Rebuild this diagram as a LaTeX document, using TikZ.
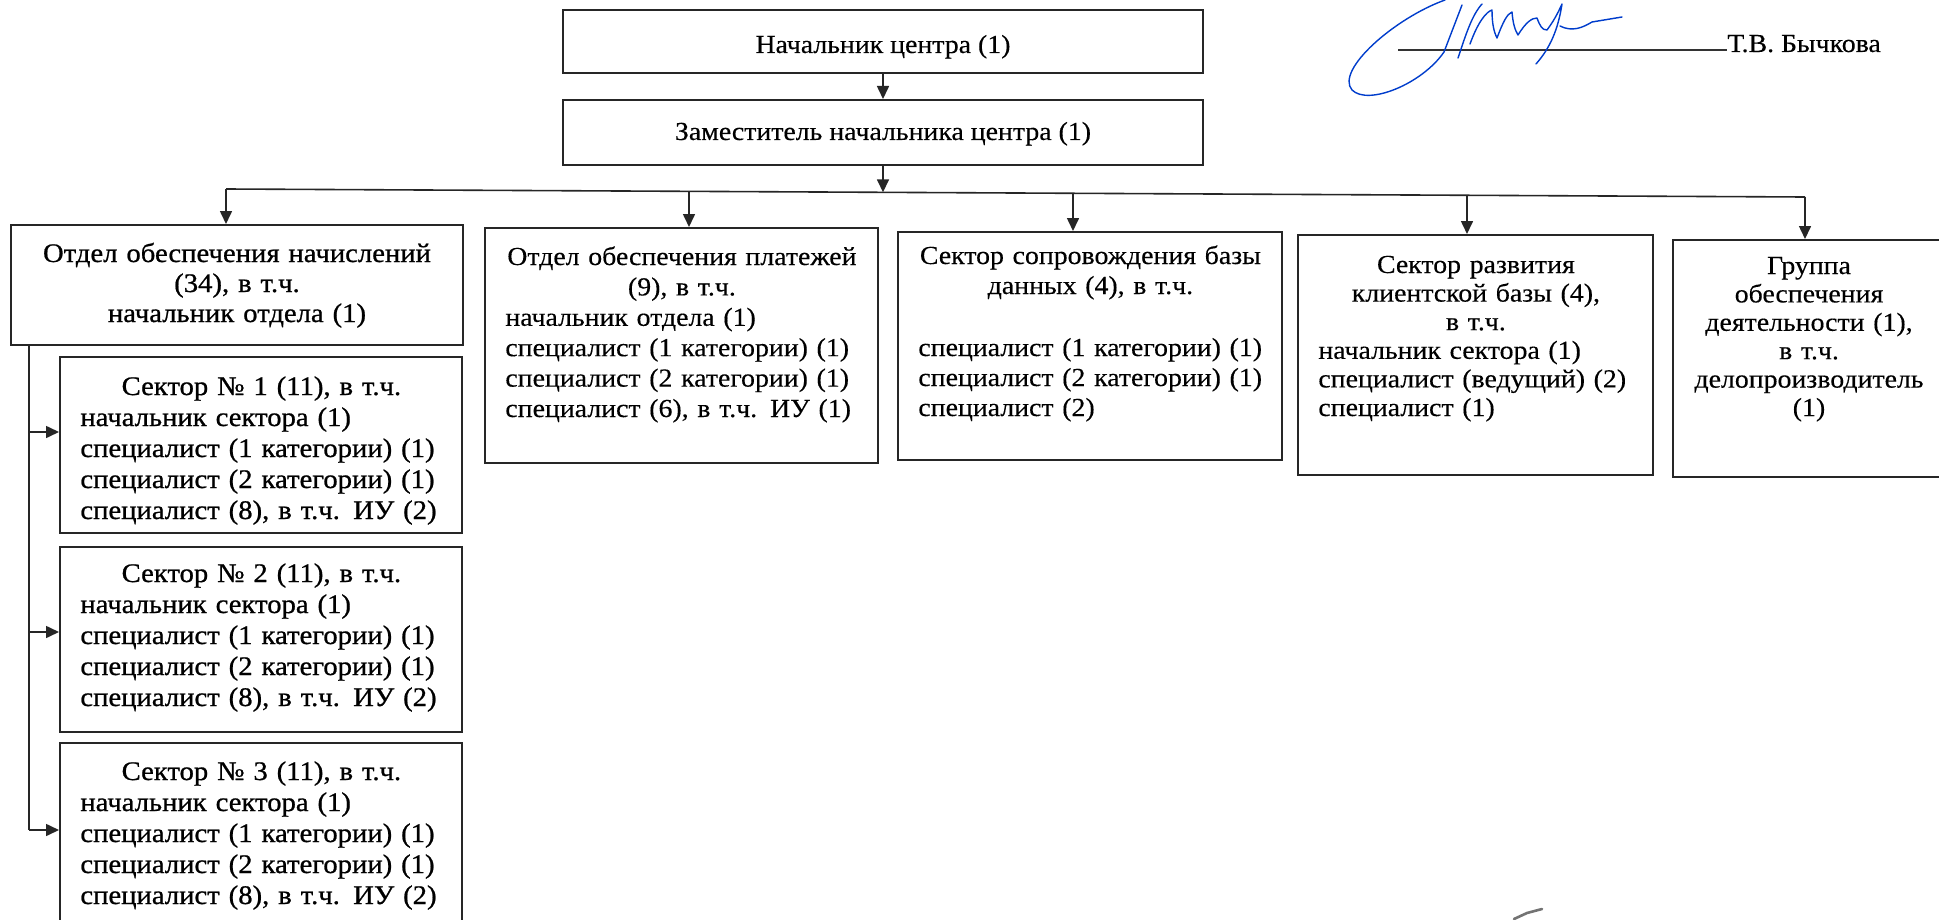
\documentclass[tikz,border=0pt]{standalone}
\usepackage{fontspec}
\setmainfont{Liberation Serif}[FakeStretch=1.07, FakeBold=0.3]
\newfontfamily\heavyfont{Liberation Serif}[FakeStretch=1.07, FakeBold=0.8]
\usetikzlibrary{fit,arrows.meta}
\newcommand\orgfont[1]{\fontsize{13}{#1}\selectfont}
\newcommand\orgfontL[1]{\heavyfont\fontsize{13.4}{#1}\selectfont}
\newcommand\ctrline[1]{\makebox[\linewidth][c]{#1}}
\newcommand\lftline[1]{\mbox{#1}}
\tikzset{
  box/.style={draw=black!85, line width=1pt, inner sep=0pt},
  con/.style={draw=black!85, line width=0.8pt},
  arr/.style={con, -{Triangle[length=6.5pt,width=6pt]}},
  txt/.style={inner sep=0pt, anchor=base},
  ctxt/.style={inner sep=0pt, anchor=base, align=center},
  ltxt/.style={inner sep=0pt, anchor=base west, align=left},
  sig/.style={draw=blue!70!cyan!80!black, line width=0.7pt, line cap=round, line join=round},
}
\begin{document}
\begin{tikzpicture}[x=0.5pt,y=-0.5pt]
\fill[white] (0,0) rectangle (1939,920);
\useasboundingbox (0,0) rectangle (1939,920);
\clip (0,0) rectangle (1939,920);

% boxes
\node[box, fit={(563,10) (1203,73)}] (A) {};
\node[box, fit={(563,100) (1203,165)}] (B) {};
\node[box, fit={(11,225) (463,345)}] (C) {};
\node[box, fit={(60,357) (462,533)}] (S1) {};
\node[box, fit={(60,547) (462,732)}] (S2) {};
\node[box, fit={(60,743) (462,935)}] (S3) {};
\node[box, fit={(485,228) (878,463)}] (D) {};
\node[box, fit={(898,232) (1282,460)}] (E) {};
\node[box, fit={(1298,235) (1653,475)}] (F) {};
\node[box, fit={(1673,240) (1950,477)}] (G) {};

% texts
\node[txt, font=\orgfont{15}] (At) at (883,53) {Начальник центра (1)};
\node[txt, font=\orgfont{15}] (Bt) at (883,140) {Заместитель начальника центра (1)};
\node[ctxt, text width=210pt, font=\orgfontL{15}] (Ct) at (237,262)
  {Отдел обеспечения начислений\\(34), в т.ч.\\начальник отдела (1)};
\node[ltxt, text width=181pt, font=\orgfontL{15.5}] (S1t) at (80,395)
  {\ctrline{Сектор № 1 (11), в т.ч.}\\\lftline{начальник сектора (1)}\\\lftline{специалист (1 категории) (1)}\\\lftline{специалист (2 категории) (1)}\\\lftline{специалист (8), в т.ч. ИУ (2)}};
\node[ltxt, text width=181pt, font=\orgfontL{15.5}] (S2t) at (80,582)
  {\ctrline{Сектор № 2 (11), в т.ч.}\\\lftline{начальник сектора (1)}\\\lftline{специалист (1 категории) (1)}\\\lftline{специалист (2 категории) (1)}\\\lftline{специалист (8), в т.ч. ИУ (2)}};
\node[ltxt, text width=181pt, font=\orgfontL{15.5}] (S3t) at (80,780)
  {\ctrline{Сектор № 3 (11), в т.ч.}\\\lftline{начальник сектора (1)}\\\lftline{специалист (1 категории) (1)}\\\lftline{специалист (2 категории) (1)}\\\lftline{специалист (8), в т.ч. ИУ (2)}};
\node[ltxt, text width=176.5pt, font=\orgfont{15.2}] (Dt) at (505,265)
  {\ctrline{Отдел обеспечения платежей}\\\ctrline{(9), в т.ч.}\\\lftline{начальник отдела (1)}\\\lftline{специалист (1 категории) (1)}\\\lftline{специалист (2 категории) (1)}\\\lftline{специалист (6), в т.ч. ИУ (1)}};
\node[ltxt, text width=172pt, font=\orgfont{15}] (Et) at (918,264)
  {\ctrline{Сектор сопровождения базы}\\\ctrline{данных (4), в т.ч.}\\[16pt]\lftline{специалист (1 категории) (1)}\\\lftline{специалист (2 категории) (1)}\\\lftline{специалист (2)}};
\node[ltxt, text width=157.5pt, font=\orgfont{14.3}] (Ft) at (1318,273)
  {\ctrline{Сектор развития}\\\ctrline{клиентской базы (4),}\\\ctrline{в т.ч.}\\\lftline{начальник сектора (1)}\\\lftline{специалист (ведущий) (2)}\\\lftline{специалист (1)}};
\node[ctxt, text width=130pt, font=\orgfont{14.2}] (Gt) at (1809,274)
  {Группа\\обеспечения\\деятельности (1),\\в т.ч.\\делопроизводитель\\(1)};

% connectors
\draw[arr] (A) -- (B);
\coordinate (j) at (883,192.3);
\draw[arr] (B) -- (j);
\coordinate (b1) at (226,189);
\coordinate (b2) at (689,191.3);
\coordinate (b3) at (1073,193.3);
\coordinate (b4) at (1467,195.3);
\coordinate (b5) at (1805,197);
\draw[con] (b1) -- (b5);
\draw[arr] (b1) -- (b1 |- C.north);
\draw[arr] (b2) -- (b2 |- D.north);
\draw[arr] (b3) -- (b3 |- E.north);
\draw[arr] (b4) -- (b4 |- F.north);
\draw[arr] (b5) -- (b5 |- G.north);

\coordinate (t1) at (29,432);
\coordinate (t2) at (29,632);
\coordinate (t3) at (29,830);
\draw[con] (C.south -| t3) -- (t3);
\draw[arr] (t1) -- (t1 -| S1.west);
\draw[arr] (t2) -- (t2 -| S2.west);
\draw[arr] (t3) -- (t3 -| S3.west);

% signature block
\node[inner sep=0pt, anchor=base west, font=\orgfont{15}] (sign) at (1727,52) {Т.В. Бычкова};
\coordinate (sl) at (1398,50);
\draw[black!80, line width=0.7pt] (sl) -- (sl -| sign.west);
\draw[sig] (1445,0) .. controls (1395,18) and (1335,70) .. (1352,90)
  .. controls (1368,106) and (1422,84) .. (1444,52) -- (1462,5);
\draw[sig] (1458,58) .. controls (1466,34) and (1472,15) .. (1482,4);
\draw[sig] (1470,44) .. controls (1478,22) and (1486,12) .. (1492,10)
  .. controls (1492,24) and (1494,32) .. (1497,38)
  .. controls (1503,22) and (1507,14) .. (1512,12)
  .. controls (1513,24) and (1515,30) .. (1518,35)
  .. controls (1526,22) and (1532,18) .. (1537,18)
  .. controls (1540,26) and (1542,30) .. (1547,30)
  .. controls (1556,18) and (1560,8) .. (1562,4)
  .. controls (1558,30) and (1550,48) .. (1536,64);
\draw[sig] (1560,26) .. controls (1572,32) and (1582,28) .. (1592,22) -- (1622,17);

% pen mark bottom right
\draw[black!55, line width=1.3pt, line cap=round] (1514,919) -- (1527,913) -- (1542,909);
\end{tikzpicture}
\end{document}
